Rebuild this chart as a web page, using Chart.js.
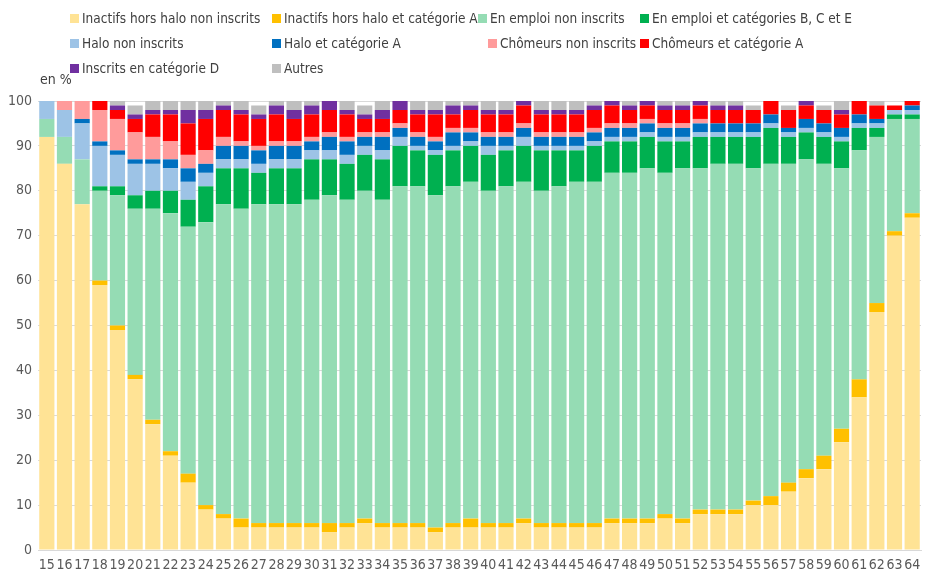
<!DOCTYPE html>
<html>
<head>
<meta charset="utf-8">
<script src="https://cdn.jsdelivr.net/npm/chart.js@4"></script>
<style>
  body { margin: 0; background: #fff; }
  #wrap { position: relative; width: 931px; height: 571px; }
  #legend { position: absolute; left: 0; top: 0; width: 931px; height: 80px;
            font-family: 'DejaVu Sans Condensed', 'Liberation Sans'; font-size: 13.5px; color: #404040; }
  .item { position: absolute; white-space: nowrap; line-height: 18px; }
  .item span.box { display: inline-block; width: 9px; height: 9px; margin-right: 3px; vertical-align: 0px; }
  #unit { position: absolute; left: 40px; top: 71px; font-family: 'DejaVu Sans Condensed', 'Liberation Sans';
          font-size: 14px; color: #404040; }
</style>
</head>
<body>
<div id="wrap">
  <canvas id="barchart"></canvas>
  <div id="legend"></div>
  <div id="unit">en %</div>
</div>
<script>
var ages = ['15','16','17','18','19','20','21','22','23','24','25','26','27','28','29','30','31','32','33','34',
    '35','36','37','38','39','40','41','42','43','44','45','46','47','48','49','50','51','52','53','54',
    '55','56','57','58','59','60','61','62','63','64'];

var inactifsNonInscrits = [92,86,77,59,49,38,28,21,15,9,7,5,5,5,5,5,4,5,6,5,
    5,5,4,5,5,5,5,6,5,5,5,5,6,6,6,7,6,8,8,8,10,10,13,16,18,24,34,53,70,74];
var inactifsCatA = [0,0,0,1,1,1,1,1,2,1,1,2,1,1,1,1,2,1,1,1,
    1,1,1,1,2,1,1,1,1,1,1,1,1,1,1,1,1,1,1,1,1,2,2,2,3,3,4,2,1,1];
var emploiNonInscrits = [4,6,10,20,29,37,47,53,55,63,69,69,71,71,71,72,73,72,73,72,
    75,75,74,75,75,74,75,75,74,75,76,76,77,77,78,76,78,76,77,77,74,74,71,69,65,58,51,37,25,21];
var emploiBCE = [0,0,0,1,2,3,4,5,6,8,8,9,7,8,8,9,8,8,8,9,
    9,8,9,8,8,8,8,8,9,8,7,8,7,7,7,7,6,7,6,6,7,8,6,6,6,6,5,2,1,1];
var haloNonInscrits = [4,6,8,9,7,7,6,5,4,3,2,2,2,2,2,2,2,2,2,2,
    2,1,1,1,1,2,1,2,1,1,1,1,1,1,1,1,1,1,1,1,1,1,1,1,1,1,1,1,1,1];
var haloCatA = [0,0,1,1,1,1,1,2,3,2,3,3,3,3,3,2,3,3,2,3,
    2,2,2,3,2,2,2,2,2,2,2,2,2,2,2,2,2,2,2,2,2,2,1,2,2,2,2,1,0,1];
var chomeursNonInscrits = [0,2,4,7,7,6,5,4,3,3,2,1,1,1,1,1,1,1,1,1,
    1,1,1,1,1,1,1,1,1,1,1,1,1,1,1,1,1,1,0,0,0,0,0,0,0,0,0,0,0,0];
var chomeursCatA = [0,0,0,2,2,3,5,6,7,7,6,6,6,6,5,5,5,5,3,3,
    3,4,5,3,4,4,4,4,4,4,4,4,4,3,3,3,3,3,3,3,3,3,4,3,3,3,3,3,1,1];
var inscritsD = [0,0,0,0,1,1,1,1,3,2,1,1,1,2,2,2,2,1,1,2,
    2,1,1,2,1,1,1,1,1,1,1,1,1,1,1,1,1,1,1,1,0,0,0,1,0,1,0,0,0,0];
var autres = [0,0,0,0,1,2,2,2,2,2,1,2,2,1,2,1,0,2,2,2,
    0,2,2,1,1,2,2,0,2,2,2,1,0,1,0,1,1,0,1,1,1,0,1,0,1,2,0,1,0,0];

var seriesLabels = ['Inactifs hors halo non inscrits', 'Inactifs hors halo et catégorie A',
    'En emploi non inscrits', 'En emploi et catégories B, C et E',
    'Halo non inscrits', 'Halo et catégorie A',
    'Chômeurs non inscrits', 'Chômeurs et catégorie A',
    'Inscrits en catégorie D', 'Autres'];
var seriesColors = ['#FFE395', '#FFC000', '#95DCB4', '#00B050', '#9DC3E6', '#0070C0',
    '#FF9B9B', '#FF0000', '#7030A0', '#BFBFBF'];
var seriesData = [inactifsNonInscrits, inactifsCatA, emploiNonInscrits, emploiBCE, haloNonInscrits,
    haloCatA, chomeursNonInscrits, chomeursCatA, inscritsD, autres];

var font = "'DejaVu Sans Condensed', 'Liberation Sans'";

var datasets = seriesLabels.map(function (lbl, i) {
    return {
        label: lbl,
        data: seriesData[i],
        backgroundColor: seriesColors[i],
        borderWidth: 0,
        barPercentage: 0.86,
        categoryPercentage: 1.0
    };
});

var ctxbar = document.getElementById('barchart');
var barchart = new Chart(ctxbar, {
    type: 'bar',
    data: { labels: ages, datasets: datasets },
    options: {
        responsive: true,
        maintainAspectRatio: false,
        animation: false,
        layout: { padding: { top: 101, right: 10, left: 0, bottom: 0 } },
        plugins: { legend: { display: false }, tooltip: { enabled: false } },
        scales: {
            x: {
                stacked: true,
                grid: { display: false, drawTicks: false },
                border: { display: true, color: '#d9d9d9' },
                ticks: { autoSkip: false, maxRotation: 0, padding: 7, color: '#595959',
                         font: { family: font, size: 14 } },
                afterFit: function (s) { s.height = 21; }
            },
            y: {
                stacked: true,
                min: 0, max: 100,
                grid: { color: '#d9d9d9', drawTicks: false },
                border: { display: false },
                ticks: { stepSize: 10, padding: 6, color: '#595959',
                         font: { family: font, size: 14 } },
                afterFit: function (s) { s.width = 38; }
            }
        }
    }
});

// legend laid out as a fixed grid like the original
var legendPos = [[70, 9], [272, 9], [478, 9], [640, 9],
                 [70, 34], [272, 34], [488, 34], [640, 34],
                 [70, 59], [272, 59]];
var leg = document.getElementById('legend');
seriesLabels.forEach(function (lbl, k) {
    var d = document.createElement('div');
    d.className = 'item';
    d.style.left = legendPos[k][0] + 'px';
    d.style.top = legendPos[k][1] + 'px';
    d.innerHTML = '<span class="box" style="background:' + seriesColors[k] + '"></span>' + lbl;
    leg.appendChild(d);
});
</script>
</body>
</html>
